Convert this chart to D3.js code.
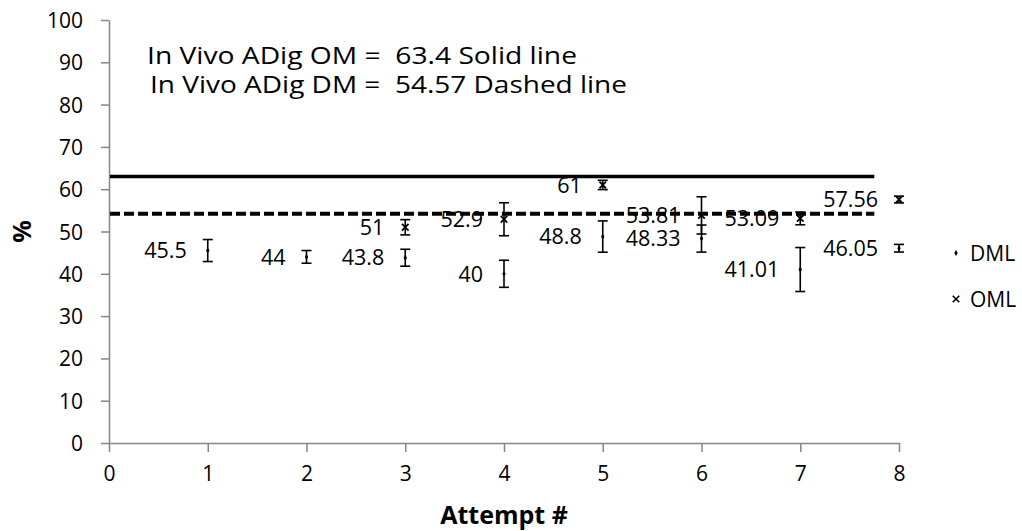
<!DOCTYPE html>
<html>
<head>
<meta charset="utf-8">
<script src="https://cdn.jsdelivr.net/npm/d3@7"></script>
<style>
  html, body { margin: 0; padding: 0; background: #fff; }
  svg { display: block; }
  text { font-family: "Open Sans", "Liberation Sans", sans-serif; fill: #000; }
</style>
</head>
<body>
<svg id="chart" width="1022" height="531"></svg>
<script>
// ---- data ----
const xTicks = [0, 1, 2, 3, 4, 5, 6, 7, 8];
const yTicks = [0, 10, 20, 30, 40, 50, 60, 70, 80, 90, 100];
const dmlAttempts = [1, 2, 3, 4, 5, 6, 7, 8];
const dmlValues = [45.5, 44, 43.8, 40, 48.8, 48.33, 41.01, 46.05];
const dmlErrors = [2.6, 1.5, 2.0, 3.2, 3.7, 3.2, 5.2, 0.9];
const omlAttempts = [3, 4, 5, 6, 7, 8];
const omlValues = [51, 52.9, 61, 53.81, 53.09, 57.56];
const omlErrors = [1.8, 3.9, 1.1, 4.4, 1.5, 0.8];
const refNames = ["solid", "dashed"];
const refValues = [63.0, 54.2];
const refXRange = [0, 7.75];
const notes = ["In Vivo ADig OM =  63.4 Solid line", "In Vivo ADig DM =  54.57 Dashed line"];
const legendNames = ["DML", "OML"];
const xTitle = "Attempt #";
const yTitle = "%";

// ---- layout ----
const svg = d3.select("#chart");
const x = d3.scaleLinear().domain([0, 8]).range([109, 899]);
const y = d3.scaleLinear().domain([0, 100]).range([443, 20]);
const axisColor = "#868686";

// axes
const gx = svg.append("g").attr("transform", `translate(0,${y(0)})`)
  .call(d3.axisBottom(x).tickValues(xTicks).tickSize(9).tickSizeOuter(0).tickPadding(14).tickFormat(d3.format("d")));
const gy = svg.append("g").attr("transform", `translate(${x(0)},0)`)
  .call(d3.axisLeft(y).tickValues(yTicks).tickSize(8).tickSizeOuter(0).tickPadding(18).tickFormat(d3.format("d")));
[gx, gy].forEach(g => {
  g.selectAll("path.domain").attr("stroke", axisColor).attr("stroke-width", 1.5);
  g.selectAll(".tick line").attr("stroke", axisColor).attr("stroke-width", 1.5);
  g.selectAll(".tick text").attr("font-family", "Open Sans").attr("font-size", 21).attr("fill", "#000");
});
gy.selectAll(".tick text").attr("dy", "0.36em");

// reference lines
const refG = svg.append("g");
refValues.forEach((v, i) => {
  refG.append("line")
    .attr("x1", x(refXRange[0]) + 1).attr("x2", x(refXRange[1]))
    .attr("y1", y(v)).attr("y2", y(v))
    .attr("stroke", "#000")
    .attr("stroke-width", refNames[i] === "solid" ? 3.3 : 4)
    .attr("stroke-dasharray", refNames[i] === "dashed" ? "10,4" : null);
});

// error bars + markers
function drawSeries(attempts, values, errors, kind) {
  const g = svg.append("g");
  attempts.forEach((a, i) => {
    const cx = x(a), v = values[i], e = errors[i];
    const y1 = y(v + e), y2 = y(v - e);
    g.append("line").attr("x1", cx).attr("x2", cx).attr("y1", y1).attr("y2", y2)
      .attr("stroke", "#000").attr("stroke-width", 1.6);
    [y1, y2].forEach(yy => g.append("line").attr("x1", cx - 5).attr("x2", cx + 5)
      .attr("y1", yy).attr("y2", yy).attr("stroke", "#000").attr("stroke-width", 1.6));
    if (kind === "DML") {
      g.append("path").attr("d", d3.symbol(d3.symbolDiamond, 10)())
        .attr("transform", `translate(${cx},${y(v)})`).attr("fill", "#000");
    } else {
      g.append("path").attr("d", d3.symbol(d3.symbolTimes, 30)())
        .attr("transform", `translate(${cx},${y(v)})`).attr("stroke", "#000").attr("stroke-width", 1.8).attr("fill", "none");
    }
    g.append("text").attr("x", cx - 21).attr("y", y(v)).attr("dy", "0.36em")
      .attr("text-anchor", "end").attr("font-size", 21.5).text(String(v));
  });
}
drawSeries(dmlAttempts, dmlValues, dmlErrors, "DML");
drawSeries(omlAttempts, omlValues, omlErrors, "OML");

// notes
const noteX = [147, 150], noteY = [64, 93], noteW = [430, 477];
notes.forEach((t, i) => {
  svg.append("text").attr("x", noteX[i]).attr("y", noteY[i])
    .attr("font-size", 23).style("white-space", "pre")
    .attr("textLength", noteW[i]).attr("lengthAdjust", "spacingAndGlyphs")
    .text(t);
});

// legend
const legY = [253, 299];
legendNames.forEach((n, i) => {
  const lx = 956, ly = legY[i];
  if (n === "DML") {
    svg.append("path").attr("d", d3.symbol(d3.symbolDiamond, 10)())
      .attr("transform", `translate(${lx},${ly})`).attr("fill", "#000");
  } else {
    svg.append("path").attr("d", d3.symbol(d3.symbolTimes, 30)())
      .attr("transform", `translate(${lx},${ly})`).attr("stroke", "#000").attr("stroke-width", 1.6).attr("fill", "none");
  }
  svg.append("text").attr("x", 970).attr("y", ly).attr("dy", "0.36em")
    .attr("font-size", 21).text(n);
});

// axis titles
svg.append("text").attr("x", (x(0) + x(8)) / 2).attr("y", 524)
  .attr("text-anchor", "middle").attr("font-family", "Liberation Sans").attr("font-weight", "bold")
  .attr("font-size", 25).text(xTitle);
svg.append("text").attr("transform", `translate(31,${y(50)}) rotate(-90)`)
  .attr("text-anchor", "middle").attr("font-family", "Liberation Sans").attr("font-weight", "bold")
  .attr("font-size", 25).text(yTitle);
</script>
</body>
</html>
